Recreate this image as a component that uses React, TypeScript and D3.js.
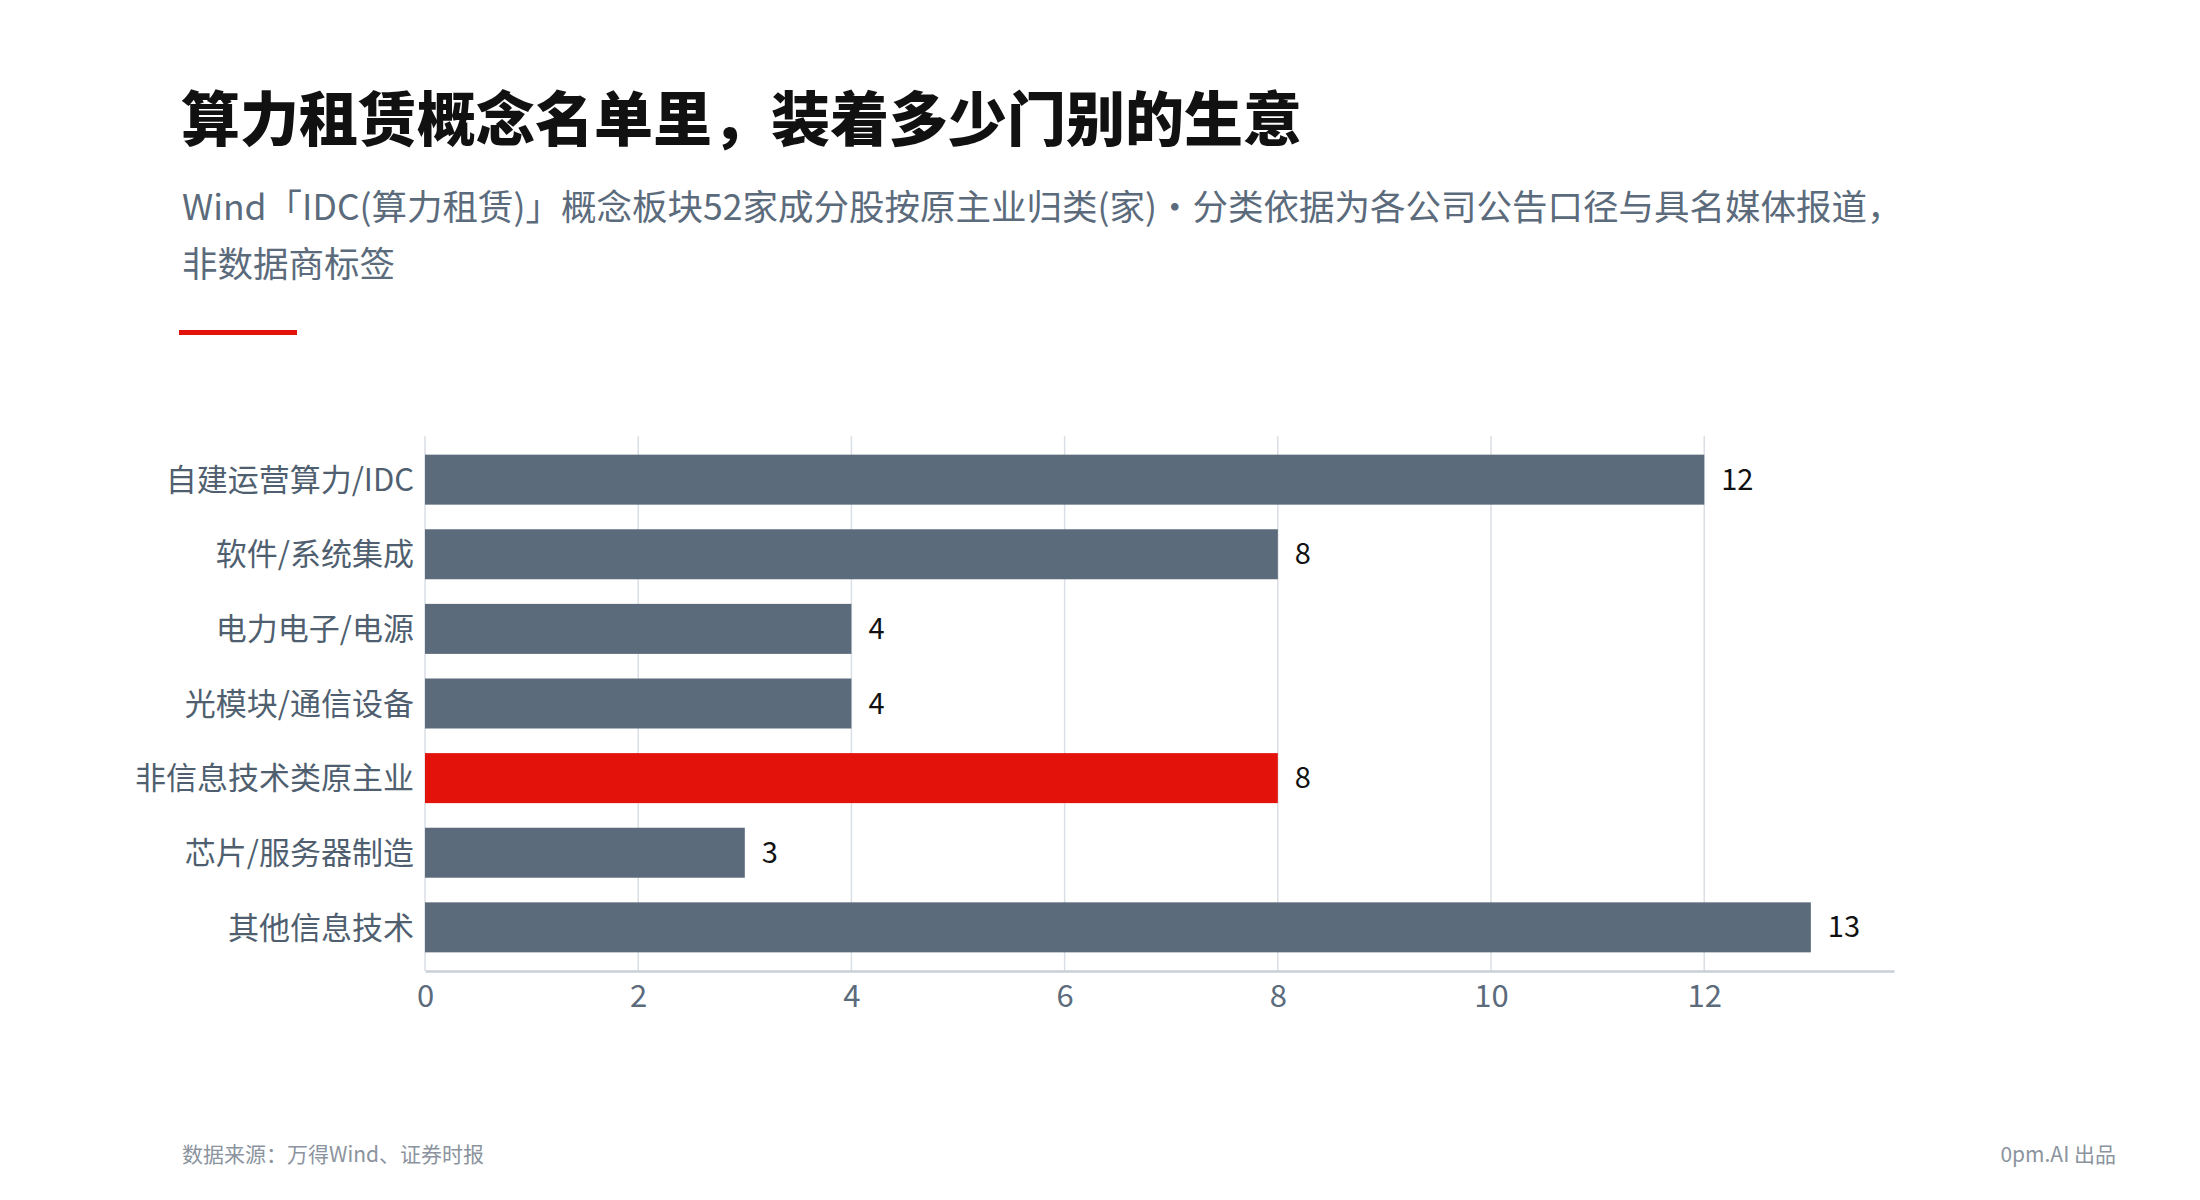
import React, { useEffect, useRef } from 'react';
import * as d3 from 'd3';

// data
const categories = [
  '自建运营算力/IDC',
  '软件/系统集成',
  '电力电子/电源',
  '光模块/通信设备',
  '非信息技术类原主业',
  '芯片/服务器制造',
  '其他信息技术',
];
const counts = [12, 8, 4, 4, 8, 3, 13];
const highlighted = ['非信息技术类原主业'];
const xTicks = [0, 2, 4, 6, 8, 10, 12];

const title = '算力租赁概念名单里，装着多少门别的生意';
const subtitleLines = [
  'Wind「IDC(算力租赁)」概念板块52家成分股按原主业归类(家)・分类依据为各公司公告口径与具名媒体报道，',
  '非数据商标签',
];
const sourceNote = '数据来源：万得Wind、证券时报';
const credit = '0pm.AI 出品';

const FONT = '"Noto Sans CJK SC", "Noto Sans", sans-serif';

const App = () => {
  const ref = useRef<SVGSVGElement | null>(null);

  useEffect(() => {
    const width = 2200;
    const height = 1200;
    const svg = d3.select(ref.current);
    svg.selectAll('*').remove();
    svg.attr('width', width).attr('height', height).style('font-family', FONT);

    svg.append('rect').attr('width', width).attr('height', height).attr('fill', '#ffffff');

    // header
    svg.append('text')
      .attr('x', 181).attr('y', 141)
      .attr('font-size', 59).attr('font-weight', 900)
      .attr('fill', '#111111')
      .text(title);

    svg.append('text')
      .attr('x', 182).attr('y', 220)
      .attr('font-size', 35.5)
      .attr('fill', '#5b6b7c')
      .selectAll('tspan')
      .data(subtitleLines)
      .join('tspan')
      .attr('x', 182)
      .attr('dy', (d, i) => (i === 0 ? 0 : 57))
      .text(d => d);

    svg.append('rect')
      .attr('x', 179).attr('y', 330).attr('width', 118).attr('height', 5)
      .attr('fill', '#e3120b');

    // chart area
    const left = 425;
    const top = 436;
    const bottom = 971;
    const x = d3.scaleLinear().domain([0, d3.max(counts)! * 1.06]).range([left, 1894]);
    const y = d3.scaleBand<string>().domain(categories).range([top, bottom])
      .paddingInner(0.33).paddingOuter(0.25);

    const data = categories.map((c, i) => ({ name: c, value: counts[i] }));

    // gridlines
    svg.append('g')
      .selectAll('line')
      .data(xTicks)
      .join('line')
      .attr('x1', d => x(d)).attr('x2', d => x(d))
      .attr('y1', top).attr('y2', bottom)
      .attr('stroke', '#dadfe5').attr('stroke-width', 1.5);

    // bars
    svg.append('g')
      .selectAll('rect')
      .data(data)
      .join('rect')
      .attr('x', x(0))
      .attr('y', d => y(d.name)!)
      .attr('width', d => x(d.value) - x(0))
      .attr('height', y.bandwidth())
      .attr('fill', d => (highlighted.includes(d.name) ? '#e3120b' : '#5b6b7b'));

    // value labels
    svg.append('g')
      .selectAll('text')
      .data(data)
      .join('text')
      .attr('x', d => x(d.value) + 17)
      .attr('y', d => y(d.name)! + y.bandwidth() / 2)
      .attr('dy', '0.35em')
      .attr('font-size', 29)
      .attr('fill', '#111111')
      .text(d => d.value);

    // category labels
    svg.append('g')
      .selectAll('text')
      .data(data)
      .join('text')
      .attr('x', left - 11)
      .attr('y', d => y(d.name)! + y.bandwidth() / 2)
      .attr('dy', '0.36em')
      .attr('text-anchor', 'end')
      .attr('font-size', 31)
      .attr('fill', '#4f5f70')
      .text(d => d.name);

    // x axis
    const axis = svg.append('g')
      .attr('transform', `translate(0,${bottom})`)
      .call(d3.axisBottom(x).tickValues(xTicks).tickSize(0).tickPadding(14).tickFormat(d3.format('d')));
    axis.select('.domain').attr('stroke', '#c8cfd7').attr('stroke-width', 2.5);
    axis.selectAll('text')
      .attr('font-size', 31)
      .attr('font-family', FONT)
      .attr('fill', '#5b6b7c');

    // footer
    svg.append('text')
      .attr('x', 182).attr('y', 1162)
      .attr('font-size', 21)
      .attr('fill', '#8b949e')
      .text(sourceNote);

    svg.append('text')
      .attr('x', 2116).attr('y', 1162)
      .attr('text-anchor', 'end')
      .attr('font-size', 21)
      .attr('fill', '#8b949e')
      .text(credit);
  }, []);

  return (
    <svg ref={ref} style={{ position: 'absolute', left: 0, top: 0, display: 'block' }} />
  );
};

export default App;
